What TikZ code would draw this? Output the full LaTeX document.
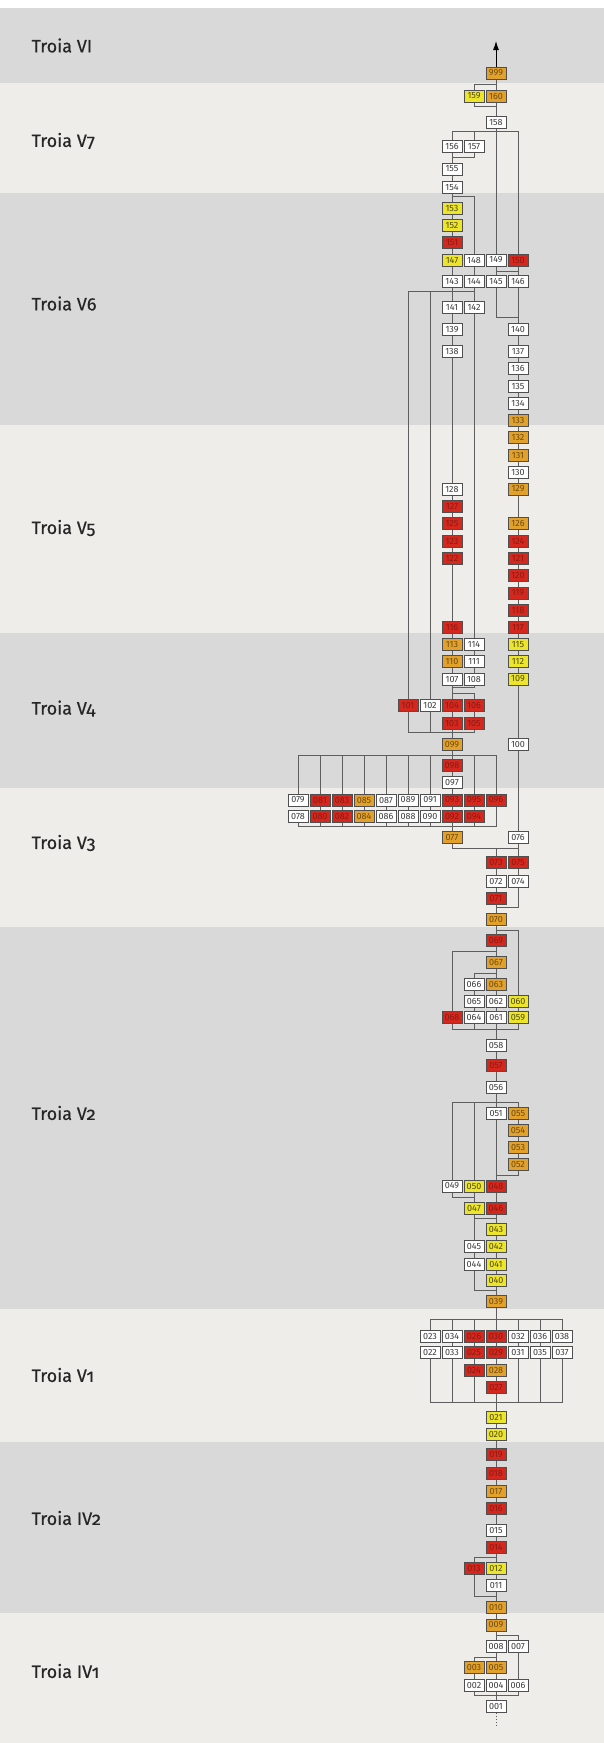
\documentclass[tikz,border=0pt]{standalone}
\usepackage{fontspec}
\setmainfont{Fira Sans}
\newfontfamily\labelfont[Numbers=OldStyle, FakeBold=0.4]{Fira Sans}
\usetikzlibrary{arrows.meta}
\definecolor{bandgray}{HTML}{D9D9D9}
\definecolor{bandlight}{HTML}{EFEDEA}
\definecolor{boxline}{HTML}{4F4F4F}
\definecolor{linkgray}{HTML}{5E5E5E}
\definecolor{numgray}{HTML}{3C3C3C}
\definecolor{fillred}{HTML}{D4281F}
\definecolor{fillorange}{HTML}{E2A12A}
\definecolor{fillyellow}{HTML}{EDE52C}
\definecolor{textred}{HTML}{8A1A12}
\definecolor{textorange}{HTML}{6E4A10}
\definecolor{textyellow}{HTML}{4E4A12}
\pgfdeclarelayer{bands}
\pgfdeclarelayer{links}
\pgfsetlayers{bands,links,main}

\begin{document}
\begin{tikzpicture}[
  x=1pt, y=-1pt,
  unit/.style={
    draw=boxline,
    line width=0.8pt,
    fill=white,
    text=numgray,
    minimum width=20pt,
    minimum height=12pt,
    inner sep=0pt,
    font=\fontsize{9}{9}\selectfont
  },
  ured/.style={unit, fill=fillred, text=textred},
  uorange/.style={unit, fill=fillorange, text=textorange},
  uyellow/.style={unit, fill=fillyellow, text=textyellow},
  phase/.style={
    anchor=west,
    text=black!85,
    font=\labelfont\fontsize{18}{18}\selectfont
  },
  link/.style={draw=linkgray, line width=0.9pt},
  >=latex
]
\useasboundingbox (0,0) rectangle (604,1743);

% phase bands
\begin{pgfonlayer}{bands}
\fill[white] (0,0) rectangle (604,8);
\fill[bandgray] (0,8) rectangle (604,83);
\fill[bandlight] (0,83) rectangle (604,193);
\fill[bandgray] (0,193) rectangle (604,425);
\fill[bandlight] (0,425) rectangle (604,633);
\fill[bandgray] (0,633) rectangle (604,788);
\fill[bandlight] (0,788) rectangle (604,927);
\fill[bandgray] (0,927) rectangle (604,1309);
\fill[bandlight] (0,1309) rectangle (604,1442);
\fill[bandgray] (0,1442) rectangle (604,1613);
\fill[bandlight] (0,1613) rectangle (604,1743);
\end{pgfonlayer}

\node[phase] (lVI) at (28,45.5) {Troia VI};
\node[phase] (lV7) at (28,141) {Troia V7};
\node[phase] (lV6) at (28,303.5) {Troia V6};
\node[phase] (lV5) at (28,528) {Troia V5};
\node[phase] (lV4) at (28,708.5) {Troia V4};
\node[phase] (lV3) at (28,843) {Troia V3};
\node[phase] (lV2) at (28,1113) {Troia V2};
\node[phase] (lV1) at (28,1375) {Troia V1};
\node[phase] (lIV2) at (28,1518) {Troia IV2};
\node[phase] (lIV1) at (28,1671) {Troia IV1};

% Troia VI / V7
\node[uorange] (n999) at (496,73) {999};
\node[uyellow] (n159) at (474,96) {159};
\node[uorange] (n160) at (496,96) {160};
\node[unit] (n158) at (496,122) {158};
\node[unit] (n156) at (452,146.5) {156};
\node[unit] (n157) at (474,146.5) {157};
\node[unit] (n155) at (452,169) {155};
\node[unit] (n154) at (452,187) {154};

% Troia V6
\node[uyellow] (n153) at (452,208) {153};
\node[uyellow] (n152) at (452,225) {152};
\node[ured] (n151) at (452,242.5) {151};
\node[uyellow] (n147) at (452,260) {147};
\node[unit] (n148) at (474,260) {148};
\node[unit] (n149) at (496,260) {149};
\node[ured] (n150) at (518,260) {150};
\node[unit] (n143) at (452,281) {143};
\node[unit] (n144) at (474,281) {144};
\node[unit] (n145) at (496,281) {145};
\node[unit] (n146) at (518,281) {146};
\node[unit] (n141) at (452,307.5) {141};
\node[unit] (n142) at (474,307.5) {142};
\node[unit] (n139) at (452,329.5) {139};
\node[unit] (n140) at (518,329.5) {140};
\node[unit] (n138) at (452,351) {138};
\node[unit] (n137) at (518,351) {137};
\node[unit] (n136) at (518,368.5) {136};
\node[unit] (n135) at (518,386) {135};
\node[unit] (n134) at (518,403.5) {134};
\node[uorange] (n133) at (518,420.5) {133};

% Troia V5
\node[uorange] (n132) at (518,437.5) {132};
\node[uorange] (n131) at (518,455) {131};
\node[unit] (n130) at (518,472) {130};
\node[uorange] (n129) at (518,489) {129};
\node[unit] (n128) at (452,489) {128};
\node[ured] (n127) at (452,506) {127};
\node[ured] (n125) at (452,523.5) {125};
\node[uorange] (n126) at (518,523.5) {126};
\node[ured] (n123) at (452,541) {123};
\node[ured] (n124) at (518,541) {124};
\node[ured] (n122) at (452,558) {122};
\node[ured] (n121) at (518,558) {121};
\node[ured] (n120) at (518,575.5) {120};
\node[ured] (n119) at (518,593) {119};
\node[ured] (n118) at (518,610) {118};
\node[ured] (n117) at (518,627.7) {117};
\node[ured] (n116) at (452,627.7) {116};

% Troia V4
\node[uorange] (n113) at (452,644.5) {113};
\node[unit] (n114) at (474,644.5) {114};
\node[uyellow] (n115) at (518,644.5) {115};
\node[uorange] (n110) at (452,661.7) {110};
\node[unit] (n111) at (474,661.7) {111};
\node[uyellow] (n112) at (518,661.7) {112};
\node[unit] (n107) at (452,679) {107};
\node[unit] (n108) at (474,679) {108};
\node[uyellow] (n109) at (518,679) {109};
\node[ured] (n101) at (408,705.7) {101};
\node[unit] (n102) at (430,705.7) {102};
\node[ured] (n104) at (452,705.7) {104};
\node[ured] (n106) at (474,705.7) {106};
\node[ured] (n103) at (452,723) {103};
\node[ured] (n105) at (474,723) {105};
\node[uorange] (n099) at (452,744.3) {099};
\node[unit] (n100) at (518,744.3) {100};
\node[ured] (n098) at (452,765.7) {098};
\node[unit] (n097) at (452,782.7) {097};

% Troia V3
\node[unit] (n079) at (298,800) {079};
\node[ured] (n081) at (320,800) {081};
\node[ured] (n083) at (342,800) {083};
\node[uorange] (n085) at (364,800) {085};
\node[unit] (n087) at (386,800) {087};
\node[unit] (n089) at (408,800) {089};
\node[unit] (n091) at (430,800) {091};
\node[ured] (n093) at (452,800) {093};
\node[ured] (n095) at (474,800) {095};
\node[ured] (n096) at (496,800) {096};
\node[unit] (n078) at (298,816.5) {078};
\node[ured] (n080) at (320,816.5) {080};
\node[ured] (n082) at (342,816.5) {082};
\node[uorange] (n084) at (364,816.5) {084};
\node[unit] (n086) at (386,816.5) {086};
\node[unit] (n088) at (408,816.5) {088};
\node[unit] (n090) at (430,816.5) {090};
\node[ured] (n092) at (452,816.5) {092};
\node[ured] (n094) at (474,816.5) {094};
\node[uorange] (n077) at (452,837.7) {077};
\node[unit] (n076) at (518,837.7) {076};
\node[ured] (n073) at (496,862.3) {073};
\node[ured] (n075) at (518,862.3) {075};
\node[unit] (n072) at (496,881) {072};
\node[unit] (n074) at (518,881) {074};
\node[ured] (n071) at (496,898.3) {071};
\node[uorange] (n070) at (496,919.3) {070};

% Troia V2
\node[ured] (n069) at (496,940.7) {069};
\node[uorange] (n067) at (496,962.7) {067};
\node[unit] (n066) at (474,984.5) {066};
\node[uorange] (n063) at (496,984.5) {063};
\node[unit] (n065) at (474,1001) {065};
\node[unit] (n062) at (496,1001) {062};
\node[uyellow] (n060) at (518,1001) {060};
\node[ured] (n068) at (452,1017.5) {068};
\node[unit] (n064) at (474,1017.5) {064};
\node[unit] (n061) at (496,1017.5) {061};
\node[uyellow] (n059) at (518,1017.5) {059};
\node[unit] (n058) at (496,1045) {058};
\node[ured] (n057) at (496,1065.7) {057};
\node[unit] (n056) at (496,1087.7) {056};
\node[unit] (n051) at (496,1113.3) {051};
\node[uorange] (n055) at (518,1113.3) {055};
\node[uorange] (n054) at (518,1130.7) {054};
\node[uorange] (n053) at (518,1147.7) {053};
\node[uorange] (n052) at (518,1164) {052};
\node[unit] (n049) at (452,1186) {049};
\node[uyellow] (n050) at (474,1186) {050};
\node[ured] (n048) at (496,1186) {048};
\node[uyellow] (n047) at (474,1208.3) {047};
\node[ured] (n046) at (496,1208.3) {046};
\node[uyellow] (n043) at (496,1229.3) {043};
\node[unit] (n045) at (474,1246.7) {045};
\node[uyellow] (n042) at (496,1246.7) {042};
\node[unit] (n044) at (474,1264) {044};
\node[uyellow] (n041) at (496,1264) {041};
\node[uyellow] (n040) at (496,1280.7) {040};
\node[uorange] (n039) at (496,1301.7) {039};

% Troia V1
\node[unit] (n023) at (430,1336.7) {023};
\node[unit] (n034) at (452,1336.7) {034};
\node[ured] (n026) at (474,1336.7) {026};
\node[ured] (n030) at (496,1336.7) {030};
\node[unit] (n032) at (518,1336.7) {032};
\node[unit] (n036) at (540,1336.7) {036};
\node[unit] (n038) at (562,1336.7) {038};
\node[unit] (n022) at (430,1352.7) {022};
\node[unit] (n033) at (452,1352.7) {033};
\node[ured] (n025) at (474,1352.7) {025};
\node[ured] (n029) at (496,1352.7) {029};
\node[unit] (n031) at (518,1352.7) {031};
\node[unit] (n035) at (540,1352.7) {035};
\node[unit] (n037) at (562,1352.7) {037};
\node[ured] (n024) at (474,1370) {024};
\node[uorange] (n028) at (496,1370) {028};
\node[ured] (n027) at (496,1387.3) {027};
\node[uyellow] (n021) at (496,1417.7) {021};
\node[uyellow] (n020) at (496,1434.3) {020};

% Troia IV2 / IV1
\node[ured] (n019) at (496,1454.5) {019};
\node[ured] (n018) at (496,1473.3) {018};
\node[uorange] (n017) at (496,1491) {017};
\node[ured] (n016) at (496,1508.3) {016};
\node[unit] (n015) at (496,1530) {015};
\node[ured] (n014) at (496,1547.3) {014};
\node[ured] (n013) at (474,1568.3) {013};
\node[uyellow] (n012) at (496,1568.3) {012};
\node[unit] (n011) at (496,1585.7) {011};
\node[uorange] (n010) at (496,1607.7) {010};
\node[uorange] (n009) at (496,1625) {009};
\node[unit] (n008) at (496,1646) {008};
\node[unit] (n007) at (518,1646) {007};
\node[uorange] (n003) at (474,1667.3) {003};
\node[uorange] (n005) at (496,1667.3) {005};
\node[unit] (n002) at (474,1685) {002};
\node[unit] (n004) at (496,1685) {004};
\node[unit] (n006) at (518,1685) {006};
\node[unit] (n001) at (496,1706.7) {001};

% bar levels
\coordinate (tip) at (496,41);
\coordinate (b999) at (496,84);
\coordinate (b158) at (496,106);
\coordinate (a158) at (496,131.7);
\coordinate (b155) at (452,157.7);
\coordinate (a154) at (452,196.7);
\coordinate (a150) at (518,271);
\coordinate (b141) at (452,291.7);
\coordinate (b140) at (518,317.3);
\coordinate (a107) at (452,687.3);
\coordinate (b104) at (452,693.3);
\coordinate (b099) at (452,732.3);
\coordinate (a099) at (452,755.7);
\coordinate (b077) at (452,826.7);
\coordinate (a077) at (452,848.3);
\coordinate (b070) at (496,907.3);
\coordinate (a070) at (496,930.7);
\coordinate (a069) at (496,951.7);
\coordinate (a067) at (496,973.3);
\coordinate (b058) at (496,1029);
\coordinate (a056) at (496,1102.3);
\coordinate (b048) at (496,1175);
\coordinate (b047) at (474,1197.3);
\coordinate (a047) at (474,1218.3);
\coordinate (b039) at (496,1290.7);
\coordinate (a039) at (496,1319);
\coordinate (b021) at (496,1402.3);
\coordinate (a014) at (496,1557.3);
\coordinate (b010) at (496,1596.7);
\coordinate (a009) at (496,1635.7);
\coordinate (a008) at (496,1657.3);
\coordinate (b001) at (496,1695);
\coordinate (base) at (496,1727);

\draw[-{Latex[length=9pt,width=6pt]}, line width=0.9pt] (n999.north) -- (tip);

\begin{pgfonlayer}{links}
\draw[link] (n999) -- (b999) -| (n159);
\draw[link] (b999) -- (n160);
\draw[link] (n159) |- (b158) -- (n158);
\draw[link] (n160) -- (n158);
\draw[link] (n158) -- (a158);
\draw[link] (n156) |- (a158) -| (n150);
\draw[link] (n157) -- (n157 |- a158);
\draw[link] (a158) -- (n149);
\draw[link] (n156) -- (n154);
\draw[link] (n157) |- (b155);
\draw[link] (n154) -- (a154) -| (n148);
\draw[link] (a154) -- (n147);
\draw[link] (n147) -- (n143);
\draw[link] (n148) -- (n144);
\draw[link] (n149) -- (n145);
\draw[link] (n150) -- (n146);
\draw[link] (n145 |- a150) -- (a150);
\draw[link] (n143) -- (n141);
\draw[link] (n144) -- (n142);
\draw[link] (n101) |- (b141) -| (n142);
\draw[link] (n102) -- (n102 |- b141);
\draw[link] (n145) |- (b140);
\draw[link] (n146) -- (n140);
\draw[link] (n140) -- (n076);
\draw[link] (n141) -- (n107);
\draw[link] (n142) -- (n108);
\draw[link] (n108) |- (a107);
\draw[link] (n106) |- (b104);
\draw[link] (n107) -- (n103);
\draw[link] (n106) -- (n105);
\draw[link] (n101) |- (b099) -| (n105);
\draw[link] (n102) -- (n102 |- b099);
\draw[link] (n103) -- (n077);
\draw[link] (n079) |- (a099) -| (n096);
\draw[link] (n081) -- (n080);
\draw[link] (n083) -- (n082);
\draw[link] (n085) -- (n084);
\draw[link] (n087) -- (n086);
\draw[link] (n089) -- (n088);
\draw[link] (n091) -- (n090);
\draw[link] (n095) -- (n094);
\draw[link] (n081) -- (n081 |- a099);
\draw[link] (n083) -- (n083 |- a099);
\draw[link] (n085) -- (n085 |- a099);
\draw[link] (n087) -- (n087 |- a099);
\draw[link] (n089) -- (n089 |- a099);
\draw[link] (n091) -- (n091 |- a099);
\draw[link] (n095) -- (n095 |- a099);
\draw[link] (n078) |- (b077) -| (n096);
\draw[link] (n080) -- (n080 |- b077);
\draw[link] (n082) -- (n082 |- b077);
\draw[link] (n084) -- (n084 |- b077);
\draw[link] (n086) -- (n086 |- b077);
\draw[link] (n088) -- (n088 |- b077);
\draw[link] (n090) -- (n090 |- b077);
\draw[link] (n094) -- (n094 |- b077);
\draw[link] (n077) -- (a077) -| (n075);
\draw[link] (n073) -- (n073 |- a077);
\draw[link] (n076) -- (n074);
\draw[link] (n073) -- (n069);
\draw[link] (n074) |- (b070);
\draw[link] (a070) -| (n060);
\draw[link] (n069) -- (n063);
\draw[link] (a069) -| (n068);
\draw[link] (a067) -| (n066);
\draw[link] (n066) -- (n064);
\draw[link] (n063) -- (n058);
\draw[link] (n060) -- (n059);
\draw[link] (n068) |- (b058) -| (n059);
\draw[link] (n064) -- (n064 |- b058);
\draw[link] (n058) -- (n051);
\draw[link] (n049) |- (a056) -| (n055);
\draw[link] (n050) -- (n050 |- a056);
\draw[link] (n055) -- (n052);
\draw[link] (n052) |- (b048);
\draw[link] (n051) -- (n046);
\draw[link] (n049) |- (b047);
\draw[link] (n050) -- (n045);
\draw[link] (a047) -| (n046);
\draw[link] (n046) -- (n039);
\draw[link] (n045) -- (n044);
\draw[link] (n044) |- (b039);
\draw[link] (n039) -- (a039);
\draw[link] (n023) |- (a039) -| (n038);
\draw[link] (n034) -- (n034 |- a039);
\draw[link] (n026) -- (n026 |- a039);
\draw[link] (n032) -- (n032 |- a039);
\draw[link] (n036) -- (n036 |- a039);
\draw[link] (n022) |- (b021) -| (n037);
\draw[link] (n034) -- (n034 |- b021);
\draw[link] (n026) -- (n026 |- b021);
\draw[link] (n032) -- (n032 |- b021);
\draw[link] (n036) -- (n036 |- b021);
\draw[link] (a039) -- (n014);
\draw[link] (a014) -| (n013);
\draw[link] (n014) -- (n009);
\draw[link] (n013) |- (b010);
\draw[link] (a009) -| (n007);
\draw[link] (n007) -- (n006);
\draw[link] (a008) -| (n003);
\draw[link] (n003) -- (n002);
\draw[link] (n009) -- (n001);
\draw[link] (n002) |- (b001) -| (n006);
\draw[link, dotted] (n001) -- (base);
\end{pgfonlayer}
\end{tikzpicture}
\end{document}
